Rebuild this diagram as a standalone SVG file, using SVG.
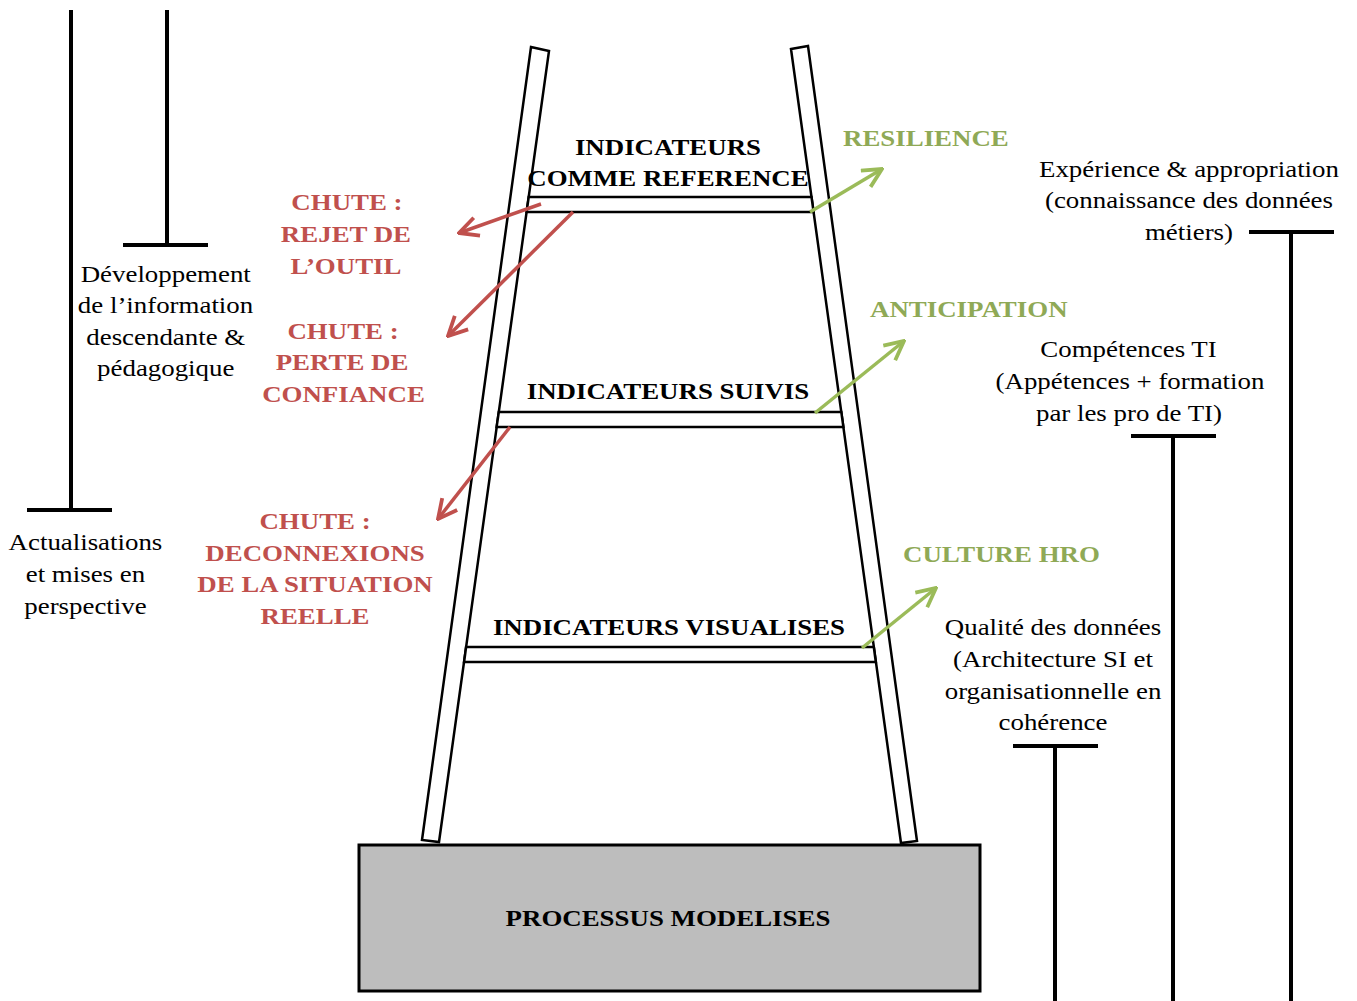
<svg xmlns="http://www.w3.org/2000/svg" width="1357" height="1001" viewBox="0 0 1357 1001">
<defs>
<style>
.rail{fill:#fff;stroke:#000;stroke-width:2.5;stroke-linejoin:miter}
.rung{fill:#fff;stroke:#000;stroke-width:2.5}
.t{stroke:#000;stroke-width:4;fill:none}
text{font-family:'Liberation Serif','Times New Roman',serif;font-size:24px;transform:scale(1.12,1);transform-origin:0 0}
.lab{font-weight:bold;fill:#000;text-anchor:middle}
.red{font-weight:bold;fill:#c0504d;text-anchor:middle}
.grn{font-weight:bold;fill:#8fa956;text-anchor:start}
.txt{fill:#000;text-anchor:middle}
.ar{stroke:#c0504d;stroke-width:3.5;fill:none}
.ag{stroke:#9bbb59;stroke-width:3.5;fill:none}
</style>
<marker id="mr" viewBox="0 0 12 12" refX="11" refY="6" markerWidth="6.5" markerHeight="6.5" orient="auto" markerUnits="strokeWidth"><path d="M1,1 L11,6 L1,11" fill="none" stroke="#c0504d" stroke-width="2"/></marker>
<marker id="mg" viewBox="0 0 12 12" refX="11" refY="6" markerWidth="6.5" markerHeight="6.5" orient="auto" markerUnits="strokeWidth"><path d="M1,1 L11,6 L1,11" fill="none" stroke="#9bbb59" stroke-width="2"/></marker>
</defs>
<rect width="1357" height="1001" fill="#fff"/>

<g id="ladder">
<polygon class="rail" points="531,47 549,51 439,842 422,840"/>
<polygon class="rail" points="791,49 808,46 917,841 901,843"/>
<polygon class="rung" points="528.7,197 811.5,197 813.6,212 526.6,212"/>
<polygon class="rung" points="498.8,412 841.3,412 843.4,427 496.6,427"/>
<polygon class="rung" points="466.1,647 873.8,647 875.8,662 464.1,662"/>
</g>

<g id="base">
<rect x="359" y="845" width="621" height="146" fill="#bdbdbd" stroke="#000" stroke-width="3"/>
<text class="lab" x="596.4" y="926">PROCESSUS MODELISES</text>
</g>

<g id="ind-ref"><text class="lab" x="596.4" y="155">INDICATEURS</text><text class="lab" x="596.4" y="186">COMME REFERENCE</text></g>
<g id="ind-suivis"><text class="lab" x="596.4" y="399">INDICATEURS SUIVIS</text></g>
<g id="ind-vis"><text class="lab" x="597.3" y="635">INDICATEURS VISUALISES</text></g>

<g id="chute1"><text class="red" x="309.8" y="210">CHUTE :</text><text class="red" x="308.9" y="242">REJET DE</text><text class="red" x="308.9" y="274">L’OUTIL</text></g>
<g id="chute2"><text class="red" x="306.3" y="339">CHUTE :</text><text class="red" x="305.4" y="370">PERTE DE</text><text class="red" x="306.7" y="402">CONFIANCE</text></g>
<g id="chute3"><text class="red" x="281.3" y="529">CHUTE :</text><text class="red" x="281.3" y="561">DECONNEXIONS</text><text class="red" x="281.3" y="592">DE LA SITUATION</text><text class="red" x="281.3" y="624">REELLE</text></g>

<g id="resilience"><text class="grn" x="752.7" y="146">RESILIENCE</text></g>
<g id="anticipation"><text class="grn" x="776.8" y="317">ANTICIPATION</text></g>
<g id="culture"><text class="grn" x="806.3" y="562">CULTURE HRO</text></g>

<g id="dev">
<line class="t" x1="167" y1="10" x2="167" y2="245"/><line class="t" x1="123" y1="245" x2="208" y2="245"/>
<text class="txt" x="148" y="282">Développement</text><text class="txt" x="147.8" y="313">de l’information</text><text class="txt" x="148" y="345">descendante &amp;</text><text class="txt" x="148" y="376">pédagogique</text>
</g>
<g id="actu">
<line class="t" x1="71" y1="10" x2="71" y2="510"/><line class="t" x1="27" y1="510" x2="112" y2="510"/>
<text class="txt" x="76.3" y="550">Actualisations</text><text class="txt" x="76.3" y="582">et mises en</text><text class="txt" x="76.3" y="614">perspective</text>
</g>
<g id="experience">
<line class="t" x1="1249" y1="232" x2="1334" y2="232"/><line class="t" x1="1291" y1="232" x2="1291" y2="1001"/>
<text class="txt" x="1061.6" y="177">Expérience &amp; appropriation</text><text class="txt" x="1061.6" y="208">(connaissance des données</text><text class="txt" x="1061.6" y="240">métiers)</text>
</g>
<g id="competences">
<line class="t" x1="1131" y1="436" x2="1216" y2="436"/><line class="t" x1="1173" y1="436" x2="1173" y2="1001"/>
<text class="txt" x="1007.6" y="357">Compétences TI</text><text class="txt" x="1008.9" y="389">(Appétences + formation</text><text class="txt" x="1008" y="421">par les pro de TI)</text>
</g>
<g id="qualite">
<line class="t" x1="1013" y1="746" x2="1098" y2="746"/><line class="t" x1="1055" y1="746" x2="1055" y2="1001"/>
<text class="txt" x="940.2" y="635">Qualité des données</text><text class="txt" x="940.2" y="667">(Architecture SI et</text><text class="txt" x="940.2" y="699">organisationnelle en</text><text class="txt" x="940.2" y="730">cohérence</text>
</g>

<g id="connectors">
<line class="ar" x1="541" y1="204" x2="459" y2="233" marker-end="url(#mr)"/>
<line class="ar" x1="573" y1="212" x2="448" y2="336" marker-end="url(#mr)"/>
<line class="ar" x1="510" y1="427" x2="438" y2="519" marker-end="url(#mr)"/>
<line class="ag" x1="810" y1="212" x2="882" y2="169" marker-end="url(#mg)"/>
<line class="ag" x1="815" y1="413" x2="904" y2="341" marker-end="url(#mg)"/>
<line class="ag" x1="862" y1="648" x2="936" y2="588" marker-end="url(#mg)"/>
</g>
</svg>
